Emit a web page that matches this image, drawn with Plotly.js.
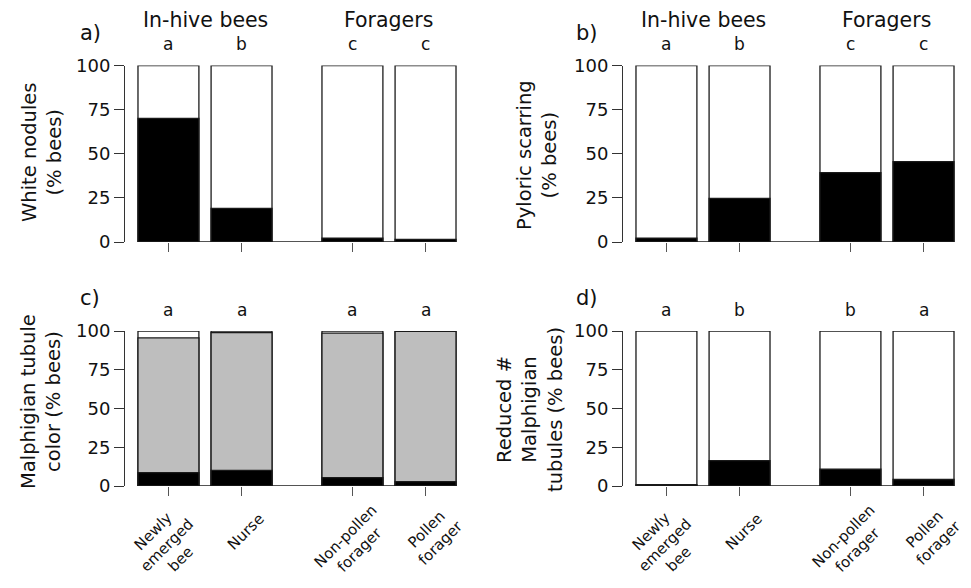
<!DOCTYPE html>
<html>
<head>
<meta charset="utf-8">
<script src="https://cdn.plot.ly/plotly-3.0.1.min.js"></script>
<style>html,body{margin:0;padding:0;background:#fff;}#chart{width:971px;height:588px;}</style>
</head>
<body>
<div id="chart"></div>
<script>
// ---------------- data ----------------
const categories = ['Newly<br>emerged<br>bee', 'Nurse', 'Non-pollen<br>forager', 'Pollen<br>forager'];
const groupTitles = ['In-hive bees', 'Foragers'];
const totalPct = [100, 100, 100, 100];

const whiteNodules = [70, 19, 2.2, 1.5];
const lettersA = ['a', 'b', 'c', 'c'];

const pyloricScarring = [2.2, 24.7, 39.3, 45.5];
const lettersB = ['a', 'b', 'c', 'c'];

const tubuleDark = [8.6, 10.1, 5.4, 2.8];
const tubuleGreyTop = [95.5, 99, 98.6, 99.7];
const lettersC = ['a', 'a', 'a', 'a'];

const reducedTubules = [0.8, 16.4, 10.8, 4.2];
const lettersD = ['a', 'b', 'b', 'a'];

// ---------------- layout helpers ----------------
const W = 971, H = 588;
const px = v => v / W;
const py = v => 1 - v / H;
const FONT = 'DejaVu Sans, Arial, sans-serif';
const INK = '#111';
const pos = categories.map((c, i) => i * 1.2 + (i >= 2 ? 0.62 : 0));
const xRange = [-0.713, 4.884];
const cols = [[px(125), px(466)], [px(623), px(964)]];
const rows = [[py(242), py(65.5)], [py(486), py(331)]];
const labelNudge = [[-2, 545], [4, 532], [0.5, 543], [8.5, 536]];
const outline = {color: '#1a1a1a', width: 1.3};

const panels = [
  {n: 1, col: 0, row: 0, black: whiteNodules, letters: lettersA, tag: 'a)', ytitle: 'White nodules<br>(% bees)', yt: [42, 152]},
  {n: 2, col: 1, row: 0, black: pyloricScarring, letters: lettersB, tag: 'b)', ytitle: 'Pyloric scarring<br>(% bees)', yt: [537, 155]},
  {n: 3, col: 0, row: 1, black: tubuleDark, grey: tubuleGreyTop, letters: lettersC, tag: 'c)', ytitle: 'Malphigian tubule<br>color (% bees)', yt: [41, 402]},
  {n: 4, col: 1, row: 1, black: reducedTubules, letters: lettersD, tag: 'd)', ytitle: 'Reduced #<br>Malphigian<br>tubules (% bees)', yt: [530, 410]}
];

const traces = [];
const annotations = [];
const shapes = [];
const layout = {
  width: W, height: H,
  margin: {l: 0, r: 0, t: 0, b: 0},
  paper_bgcolor: '#fff', plot_bgcolor: 'rgba(0,0,0,0)',
  showlegend: false, barmode: 'overlay',
  font: {family: FONT, color: INK},
  annotations: annotations, shapes: shapes
};

panels.forEach(p => {
  const sx = p.n === 1 ? '' : String(p.n);
  const xa = 'x' + sx, ya = 'y' + sx;
  const base = {type: 'bar', x: pos, width: 1, xaxis: xa, yaxis: ya, hoverinfo: 'skip'};
  traces.push(Object.assign({}, base, {y: totalPct, marker: {color: '#fff', line: outline}}));
  if (p.grey) traces.push(Object.assign({}, base, {y: p.grey, marker: {color: '#bebebe', line: outline}}));
  traces.push(Object.assign({}, base, {y: p.black, marker: {color: '#000', line: outline}}));

  layout['xaxis' + sx] = {
    domain: cols[p.col], range: xRange, anchor: ya,
    tickvals: pos, showticklabels: false, ticks: 'outside', ticklen: 9, tickwidth: 1, tickcolor: '#555',
    showline: false, showgrid: false, zeroline: false, fixedrange: true
  };
  layout['yaxis' + sx] = {
    domain: rows[p.row], range: [0, 100], anchor: xa,
    tickvals: [0, 25, 50, 75, 100], ticks: 'outside', ticklen: 10, tickwidth: 1, tickcolor: '#333',
    showline: true, linecolor: '#333', linewidth: 1,
    tickfont: {family: FONT, size: 18, color: INK},
    showgrid: false, zeroline: false, fixedrange: true
  };

  shapes.push({type: 'line', xref: xa, yref: ya, x0: pos[0] - 0.5, x1: pos[3] + 0.5, y0: 0, y1: 0,
               line: {color: '#1a1a1a', width: 1.3}});

  // significance letters
  const letterY = p.row === 0 ? 44 : 310;
  p.letters.forEach((t, i) => annotations.push({
    xref: xa, yref: 'paper', x: pos[i], y: py(letterY), text: t, showarrow: false,
    xanchor: 'center', yanchor: 'middle', font: {size: 17, family: FONT, color: INK}
  }));

  // group titles (top row only)
  if (p.row === 0) {
    [[0, 1], [2, 3]].forEach((g, k) => annotations.push({
      xref: xa, yref: 'paper', x: (pos[g[0]] + pos[g[1]]) / 2, y: py(20), text: groupTitles[k],
      showarrow: false, xanchor: 'center', yanchor: 'middle', font: {size: 20.5, family: FONT, color: INK}
    }));
  }

  // panel tag
  annotations.push({
    xref: 'paper', yref: 'paper', x: px(p.col === 0 ? 90 : 587), y: py(p.row === 0 ? 33 : 298),
    text: p.tag, showarrow: false, xanchor: 'center', yanchor: 'middle',
    font: {size: 21, family: FONT, color: INK}
  });

  // y-axis title
  annotations.push({
    xref: 'paper', yref: 'paper', x: px(p.yt[0]), y: py(p.yt[1]), text: p.ytitle,
    textangle: -90, showarrow: false, xanchor: 'center', yanchor: 'middle', align: 'center',
    font: {size: 19.5, family: FONT, color: INK}
  });

  // category labels (bottom row only)
  if (p.row === 1) {
    categories.forEach((c, i) => annotations.push({
      xref: xa, yref: 'paper', x: pos[i], xshift: labelNudge[i][0], y: py(labelNudge[i][1]),
      text: c, textangle: -45, showarrow: false, xanchor: 'center', yanchor: 'middle', align: 'center',
      font: {size: 15, family: FONT, color: INK}
    }));
  }
});

Plotly.newPlot('chart', traces, layout, {staticPlot: true, displayModeBar: false});
</script>
</body>
</html>
